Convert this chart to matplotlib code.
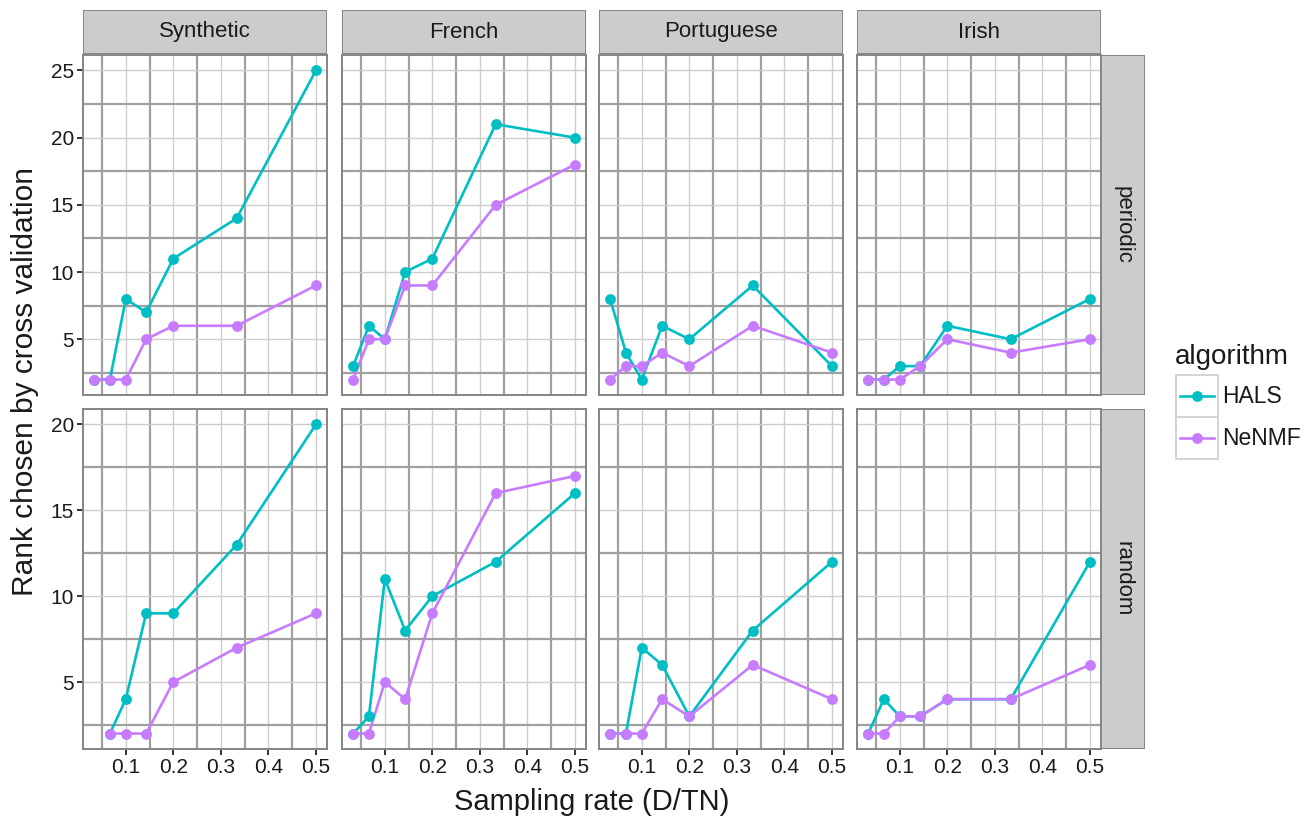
"""
Rank chosen by cross validation
===============================

Facet grid of the chosen rank against the sampling rate,
one column per dataset and one row per sampling scheme.
"""

# %%
# Imports
import numpy as np
import matplotlib
matplotlib.use("Agg")
import matplotlib.pyplot as plt
from matplotlib.patches import Rectangle

plt.rcParams["font.family"] = ["Liberation Sans", "DejaVu Sans"]

# %%
# Data
rates = [1 / 30, 1 / 15, 1 / 10, 1 / 7, 1 / 5, 1 / 3, 1 / 2]
datasets = ["Synthetic", "French", "Portuguese", "Irish"]
schemes = ["periodic", "random"]
algorithms = ["HALS", "NeNMF"]

nan = np.nan
hals_periodic = {
    "Synthetic": [2, 2, 8, 7, 11, 14, 25],
    "French": [3, 6, 5, 10, 11, 21, 20],
    "Portuguese": [8, 4, 2, 6, 5, 9, 3],
    "Irish": [2, 2, 3, 3, 6, 5, 8],
}
nenmf_periodic = {
    "Synthetic": [2, 2, 2, 5, 6, 6, 9],
    "French": [2, 5, 5, 9, 9, 15, 18],
    "Portuguese": [2, 3, 3, 4, 3, 6, 4],
    "Irish": [2, 2, 2, 3, 5, 4, 5],
}
hals_random = {
    "Synthetic": [nan, 2, 4, 9, 9, 13, 20],
    "French": [2, 3, 11, 8, 10, 12, 16],
    "Portuguese": [2, 2, 7, 6, 3, 8, 12],
    "Irish": [2, 4, 3, 3, 4, 4, 12],
}
nenmf_random = {
    "Synthetic": [nan, 2, 2, 2, 5, 7, 9],
    "French": [2, 2, 5, 4, 9, 16, 17],
    "Portuguese": [2, 2, 2, 4, 3, 6, 4],
    "Irish": [2, 2, 3, 3, 4, 4, 6],
}
values = {
    ("periodic", "HALS"): hals_periodic,
    ("periodic", "NeNMF"): nenmf_periodic,
    ("random", "HALS"): hals_random,
    ("random", "NeNMF"): nenmf_random,
}

x_ticks = [0.1, 0.2, 0.3, 0.4, 0.5]
y_ticks = {"periodic": [5, 10, 15, 20, 25], "random": [5, 10, 15, 20]}

colors = {"HALS": "#00BFC4", "NeNMF": "#C77CFF"}

# %%
# Layout in pixels
W, H = 1309, 821
fig = plt.figure(figsize=(W / 100, H / 100), dpi=100)

col_left = [83, 342, 599, 857]
panel_w = 244
row_top = [55, 409]
panel_h = 340
strip = 44

major_c, minor_c = "#CDCDCD", "#A0A0A0"
border_c = "#858585"
strip_c = "#CCCCCC"
text_c = "#1A1A1A"
lw, ms = 1.9, 7.8


def px_box(x0, y0, w, h):
    return [x0 / W, 1 - (y0 + h) / H, w / W, h / H]


xmin, xmax = min(rates), max(rates)
xpad = 0.05 * (xmax - xmin)

for r, scheme in enumerate(schemes):
    # shared y range within a row
    allv = np.concatenate([np.array(values[(scheme, a)][d], float)
                           for a in algorithms for d in datasets])
    ymin, ymax = np.nanmin(allv), np.nanmax(allv)
    ypad = 0.05 * (ymax - ymin)

    for c, name in enumerate(datasets):
        ax = fig.add_axes(px_box(col_left[c], row_top[r], panel_w, panel_h))
        ax.set_xlim(xmin - xpad, xmax + xpad)
        ax.set_ylim(ymin - ypad, ymax + ypad)

        # grid: minor lines are darker and thicker in this chart
        for xv in x_ticks:
            ax.axvline(xv, color=major_c, lw=1.0, zorder=0)
            ax.axvline(xv - 0.05, color=minor_c, lw=1.6, zorder=0)
        for yv in y_ticks[scheme]:
            ax.axhline(yv, color=major_c, lw=1.0, zorder=0)
            ax.axhline(yv - 2.5, color=minor_c, lw=1.6, zorder=0)
        ax.axhline(y_ticks[scheme][-1] + 2.5, color=minor_c, lw=1.6, zorder=0)

        # lines first, then points (as geom_line + geom_point)
        for a in algorithms:
            y = np.array(values[(scheme, a)][name], float)
            ok = ~np.isnan(y)
            ax.plot(np.array(rates)[ok], y[ok], color=colors[a], lw=lw,
                    zorder=2)
        for a in algorithms:
            y = np.array(values[(scheme, a)][name], float)
            ok = ~np.isnan(y)
            ax.plot(np.array(rates)[ok], y[ok], "o", color=colors[a], ms=ms,
                    mec="none", zorder=3)

        for s in ax.spines.values():
            s.set_color(border_c)
            s.set_linewidth(1.4)

        ax.set_xticks(x_ticks)
        ax.set_yticks(y_ticks[scheme])
        ax.tick_params(length=4.5, width=1.4, color="#333333",
                       labelsize=15, labelcolor=text_c, pad=2)
        if r == 1:
            ax.set_xticklabels([f"{t:.1f}" for t in x_ticks])
        else:
            ax.tick_params(axis="x", length=0, labelbottom=False)
        if c == 0:
            ax.set_yticklabels([str(t) for t in y_ticks[scheme]])
        else:
            ax.tick_params(axis="y", length=0, labelleft=False)

        # column strips
        if r == 0:
            sax = fig.add_axes(px_box(col_left[c], row_top[0] - strip - 1,
                                      panel_w, strip))
            sax.add_patch(Rectangle((0, 0), 1, 1, facecolor=strip_c,
                                    edgecolor=border_c, lw=1.4,
                                    transform=sax.transAxes))
            sax.text(0.5, 0.5, name, ha="center", va="center", fontsize=16,
                     color=text_c)
            sax.axis("off")

    # row strips
    rax = fig.add_axes(px_box(col_left[-1] + panel_w, row_top[r], strip,
                              panel_h))
    rax.add_patch(Rectangle((0, 0), 1, 1, facecolor=strip_c,
                            edgecolor=border_c, lw=1.4,
                            transform=rax.transAxes))
    rax.text(0.5, 0.5, scheme, ha="center", va="center", rotation=-90,
             fontsize=16, color=text_c)
    rax.axis("off")

# %%
# Axis titles
fig.text((col_left[0] + col_left[-1] + panel_w) / 2 / W, 1 - 802 / H,
         "Sampling rate (D/TN)", ha="center", va="center", fontsize=21,
         color=text_c)
fig.text(25 / W, 1 - 382 / H, "Rank chosen by cross validation",
         ha="center", va="center", rotation=90, fontsize=21.5, color=text_c)

# %%
# Legend: keys in boxes, as in ggplot
lax = fig.add_axes(px_box(1170, 340, 139, 125))
lax.set_xlim(1170, 1309)
lax.set_ylim(465, 340)
lax.axis("off")
lax.text(1175, 357, "algorithm", ha="left", va="center", fontsize=20,
         color=text_c)
for i, a in enumerate(algorithms):
    top = 375 + 42 * i
    lax.add_patch(Rectangle((1176, top), 42, 42, facecolor="white",
                            edgecolor="#D4D4D4", lw=1.4))
    cy = top + 21
    lax.plot([1180, 1214], [cy, cy], color=colors[a], lw=lw)
    lax.plot([1197], [cy], "o", color=colors[a], ms=ms, mec="none")
    lax.text(1222, cy, a, ha="left", va="center", fontsize=16.5,
             color=text_c)

fig.savefig("out.png", dpi=100)
